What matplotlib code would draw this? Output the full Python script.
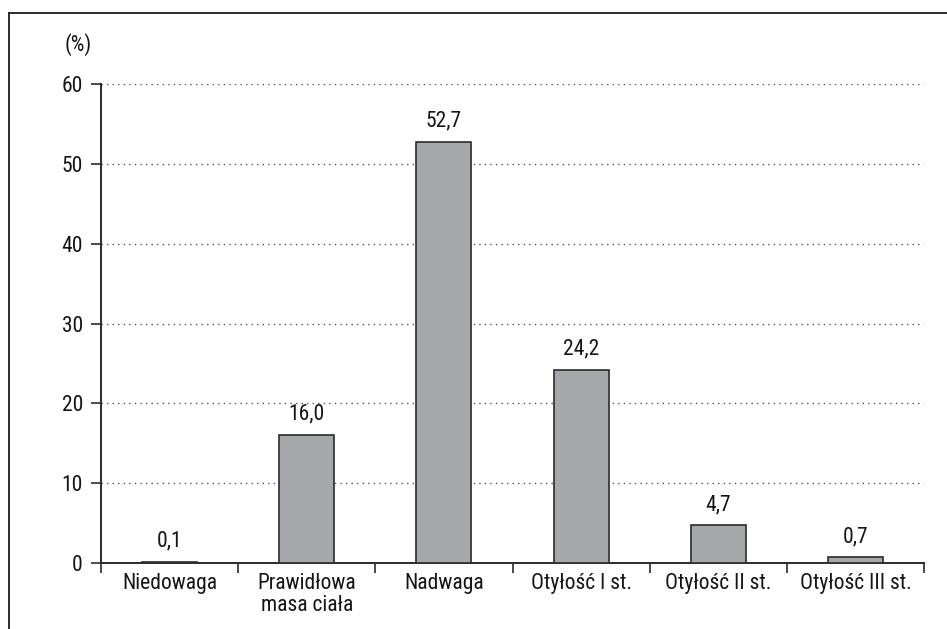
import matplotlib
matplotlib.use("Agg")
import matplotlib.pyplot as plt
from matplotlib.lines import Line2D
from matplotlib import font_manager as fm

categories = ["Niedowaga", "Prawidłowa\nmasa ciała", "Nadwaga", "Otyłość I st.", "Otyłość II st.", "Otyłość III st."]
values = [0.1, 16.0, 52.7, 24.2, 4.7, 0.7]
labels = ["0,1", "16,0", "52,7", "24,2", "4,7", "0,7"]
yticks = [0, 10, 20, 30, 40, 50, 60]

names = {f.name for f in fm.fontManager.ttflist}
fam = "DejaVu Sans"
for cand in ["Liberation Sans Narrow", "Roboto Condensed", "Open Sans Condensed", "DejaVu Sans Condensed", "Roboto"]:
    if cand in names:
        fam = cand
        break
plt.rcParams['font.family'] = [fam, 'DejaVu Sans']
if fam == "DejaVu Sans":
    plt.rcParams['font.stretch'] = 'condensed'
FS = 15.5

W, H = 947, 629
fig = plt.figure(figsize=(W/100, H/100), dpi=100)
ax = fig.add_axes([101/W, 1-563/H, (924-101)/W, (563-84)/H])

x = list(range(len(values)))
ax.bar(x, values, width=0.4, color="#a6a7aa", edgecolor="#2b2b2b", linewidth=1.2, zorder=3)
for xi, v, lab in zip(x, values, labels):
    ax.annotate(lab, (xi, v), xytext=(0, 7.5), textcoords="offset points",
                ha="center", va="bottom", fontsize=FS, color="#151515")

ax.set_xlim(-0.5, len(values) - 0.5)
ax.set_ylim(0, 60)
ax.set_yticks(yticks)
ax.set_yticklabels([str(t) for t in yticks], fontsize=FS, color="#151515")
for t in yticks[1:]:
    ax.axhline(t, color="#555555", linestyle=(0, (1, 3)), linewidth=1.0, zorder=1)

ax.set_xticks([i - 0.5 for i in range(len(values) + 1)])
ax.set_xticklabels([])
ax.set_xticks(x, minor=True)
ax.set_xticklabels(categories, minor=True, fontsize=FS, color="#151515", linespacing=1.05)
ax.tick_params(axis="x", which="minor", length=0, pad=7)
ax.tick_params(axis="x", which="major", length=7, width=1.2, color="#2b2b2b", direction="out")
ax.tick_params(axis="y", length=7, width=1.2, color="#2b2b2b", direction="out", pad=6)

for s in ["top", "right"]:
    ax.spines[s].set_visible(False)
for s in ["left", "bottom"]:
    ax.spines[s].set_linewidth(1.4)
    ax.spines[s].set_color("#2b2b2b")

fig.text(78/W, 1-45/H, "(%)", ha="center", va="center", fontsize=FS, color="#151515")

fig.add_artist(Line2D([9/W, 9/W], [0, 1-13/H], transform=fig.transFigure, color="#2b2b2b", linewidth=1.4))
fig.add_artist(Line2D([9/W, 1], [1-13/H, 1-13/H], transform=fig.transFigure, color="#2b2b2b", linewidth=1.4))

fig.savefig("out.png", dpi=100)
